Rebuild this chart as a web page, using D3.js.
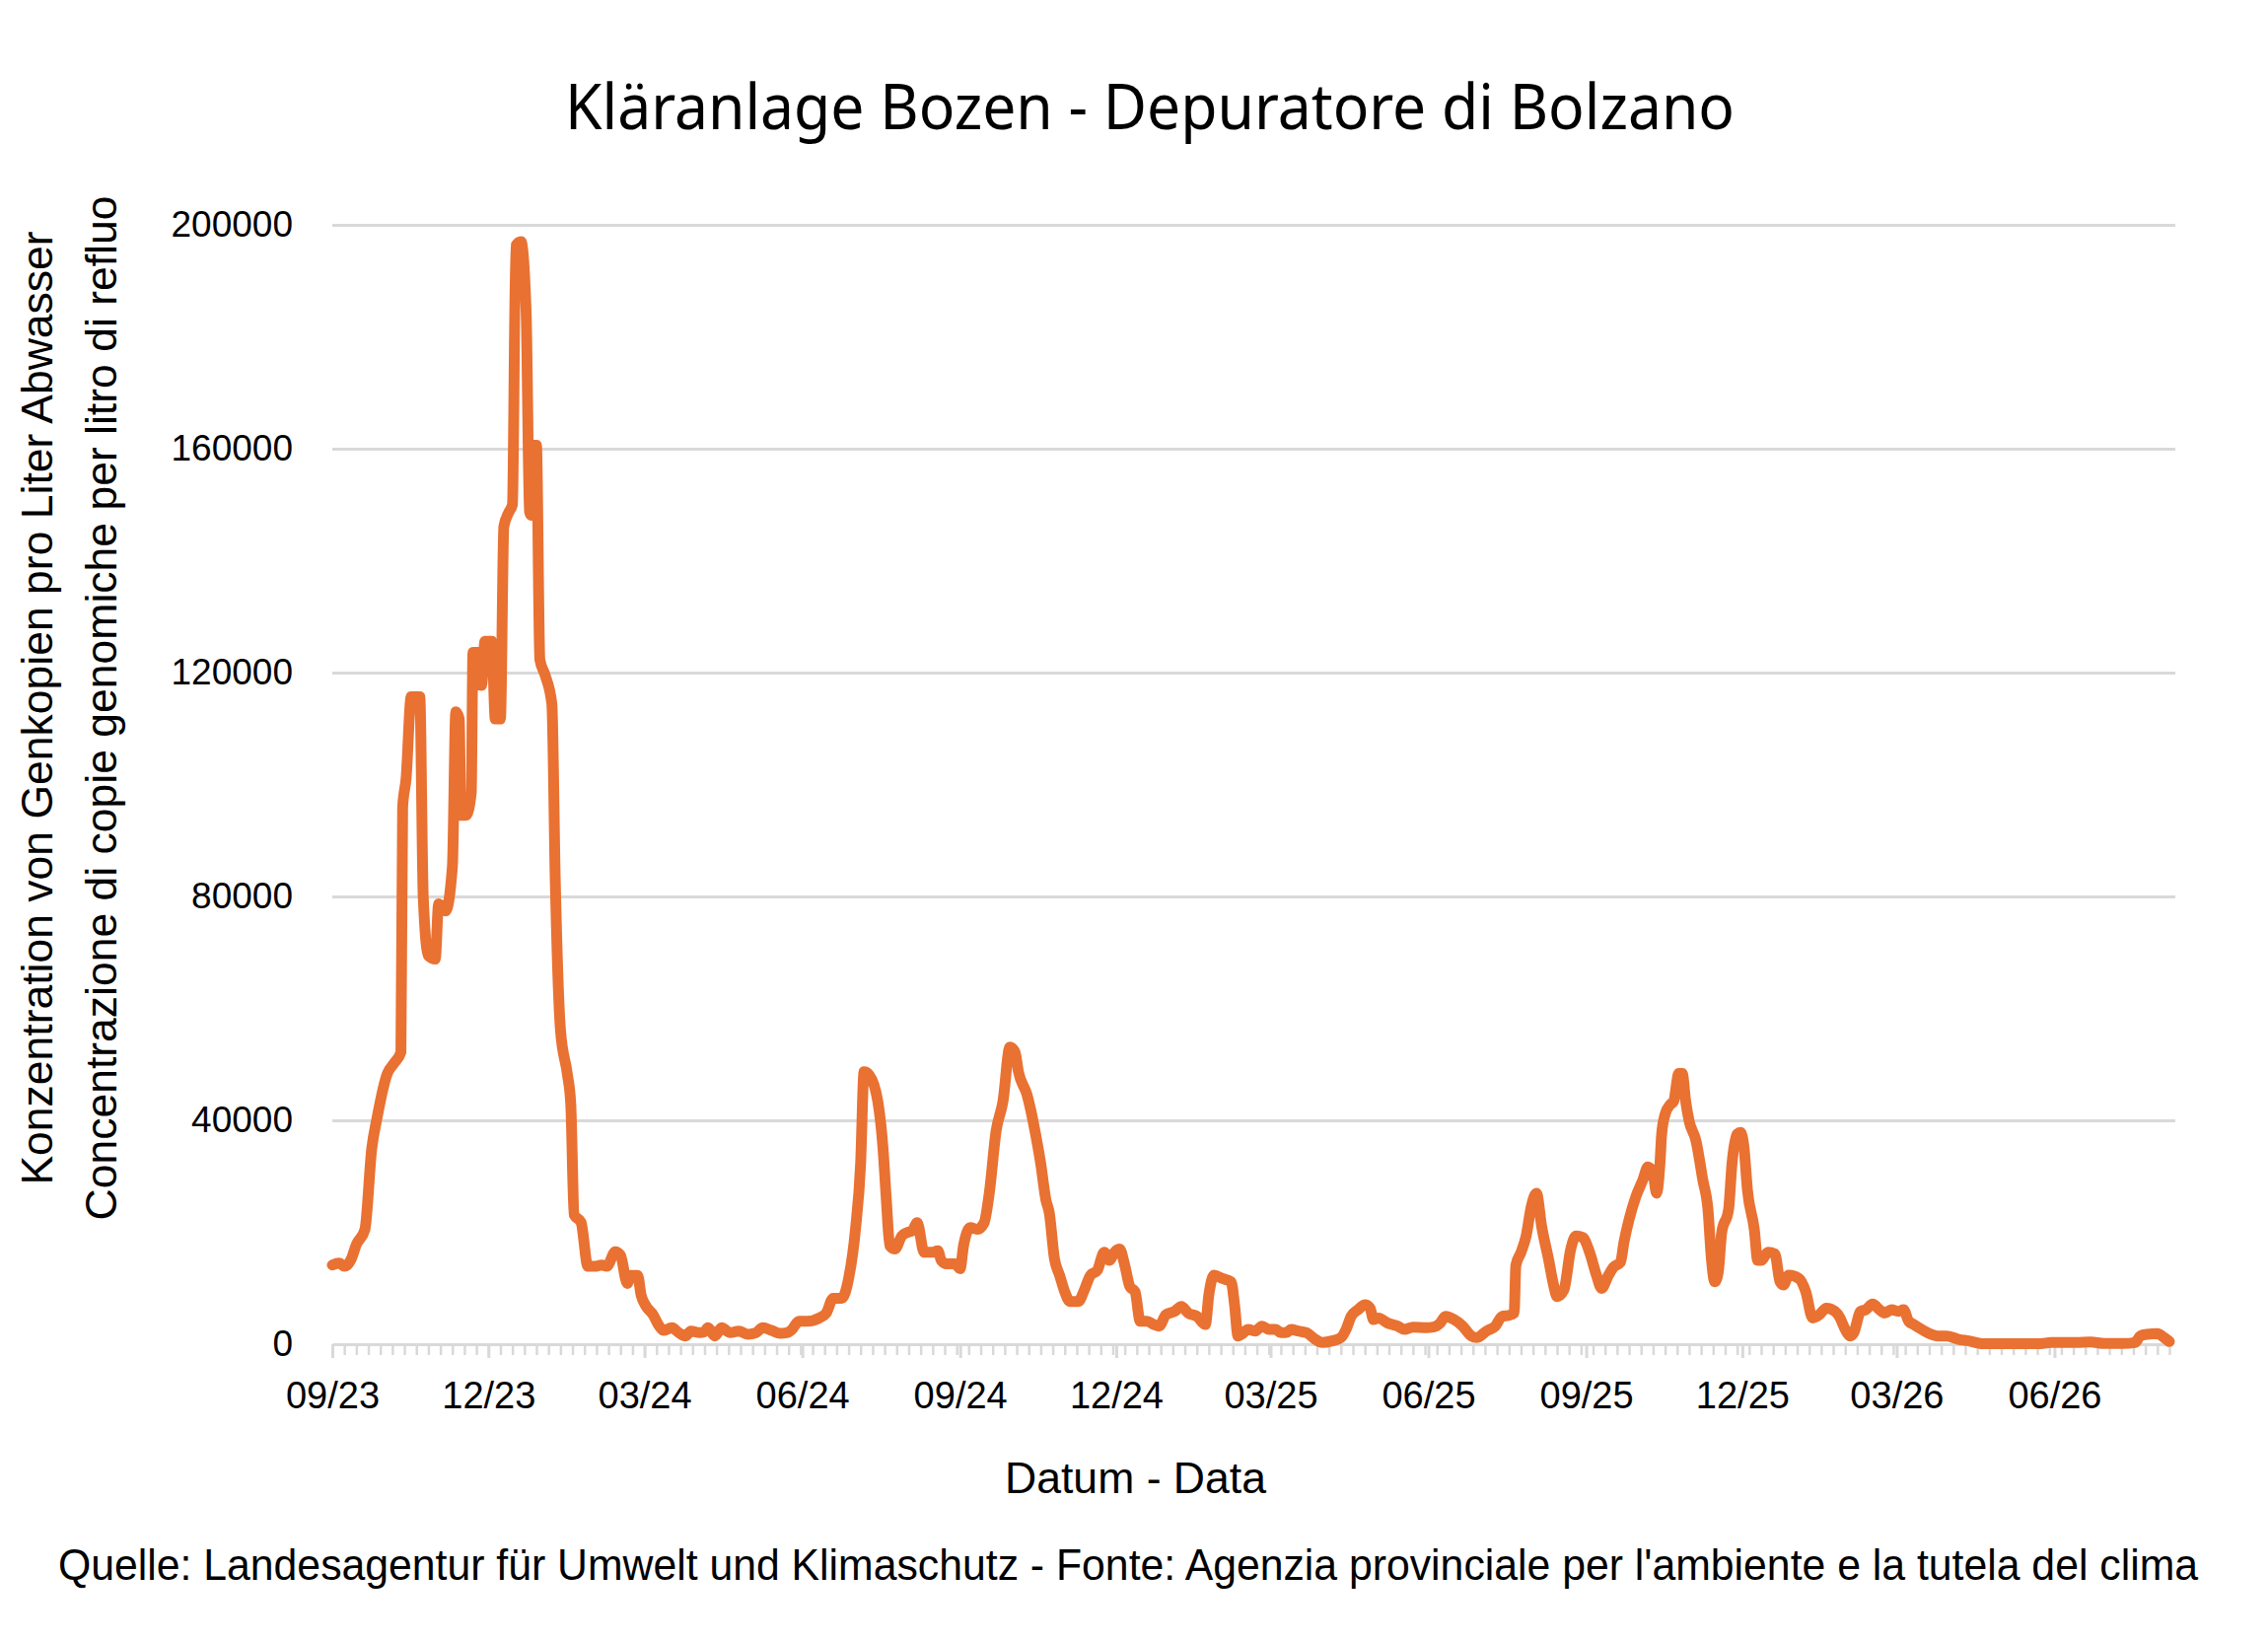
<!DOCTYPE html>
<html>
<head>
<meta charset="utf-8">
<script src="https://cdn.jsdelivr.net/npm/d3@7"></script>
<style>
  body { margin: 0; background: #fff; }
</style>
</head>
<body>
<svg id="chart"></svg>
<script>
// Messwerte (Datum, Genkopien pro Liter)
const dates = [
  "2023-09-01","2023-09-05","2023-09-08","2023-09-12","2023-09-15","2023-09-20","2023-09-24","2023-09-27",
  "2023-10-03","2023-10-07","2023-10-11","2023-10-12","2023-10-14","2023-10-17","2023-10-22","2023-10-24",
  "2023-10-27","2023-10-31","2023-11-02","2023-11-06","2023-11-10","2023-11-12","2023-11-14","2023-11-15",
  "2023-11-18","2023-11-21","2023-11-22","2023-11-25","2023-11-27","2023-11-29","2023-12-03","2023-12-05",
  "2023-12-08","2023-12-10","2023-12-13","2023-12-15","2023-12-17","2023-12-20","2023-12-23","2023-12-25",
  "2023-12-26","2023-12-27","2023-12-29","2023-12-31","2024-01-03","2024-01-07","2024-01-09","2024-01-12",
  "2024-01-16","2024-01-18","2024-01-20","2024-01-24","2024-01-28","2024-02-01","2024-02-05","2024-02-08",
  "2024-02-13","2024-02-16","2024-02-20","2024-02-22","2024-02-26","2024-02-28","2024-03-02","2024-03-06",
  "2024-03-09","2024-03-12","2024-03-17","2024-03-21","2024-03-25","2024-03-28","2024-04-02","2024-04-05",
  "2024-04-07","2024-04-11","2024-04-15","2024-04-20","2024-04-25","2024-04-30","2024-05-05","2024-05-09",
  "2024-05-14","2024-05-19","2024-05-23","2024-05-26","2024-05-30","2024-06-04","2024-06-11","2024-06-15",
  "2024-06-19","2024-06-24","2024-06-28","2024-07-02","2024-07-05","2024-07-07","2024-07-10","2024-07-15",
  "2024-07-18","2024-07-20","2024-07-22","2024-07-25","2024-07-29","2024-08-01","2024-08-04","2024-08-07",
  "2024-08-11","2024-08-16","2024-08-19","2024-08-21","2024-08-24","2024-08-29","2024-09-01","2024-09-03",
  "2024-09-07","2024-09-11","2024-09-15","2024-09-18","2024-09-22","2024-09-26","2024-09-30","2024-10-03",
  "2024-10-05","2024-10-10","2024-10-15","2024-10-18","2024-10-21","2024-10-23","2024-10-26","2024-10-29",
  "2024-11-01","2024-11-04","2024-11-09","2024-11-12","2024-11-16","2024-11-20","2024-11-24","2024-11-27",
  "2024-11-30","2024-12-03","2024-12-06","2024-12-09","2024-12-12","2024-12-15","2024-12-19","2024-12-23",
  "2024-12-26","2024-12-30","2025-01-04","2025-01-08","2025-01-12","2025-01-17","2025-01-22","2025-01-24",
  "2025-01-27","2025-02-01","2025-02-06","2025-02-08","2025-02-10","2025-02-12","2025-02-16","2025-02-20",
  "2025-02-24","2025-02-28","2025-03-04","2025-03-07","2025-03-10","2025-03-13","2025-03-17","2025-03-22",
  "2025-03-27","2025-03-31","2025-04-06","2025-04-11","2025-04-14","2025-04-17","2025-04-21","2025-04-25",
  "2025-04-28","2025-04-30","2025-05-03","2025-05-08","2025-05-14","2025-05-18","2025-05-23","2025-05-31",
  "2025-06-04","2025-06-08","2025-06-11","2025-06-16","2025-06-21","2025-06-26","2025-06-29","2025-07-05",
  "2025-07-10","2025-07-14","2025-07-18","2025-07-21","2025-07-22","2025-07-25","2025-07-28","2025-07-31",
  "2025-08-03","2025-08-06","2025-08-10","2025-08-13","2025-08-15","2025-08-19","2025-08-23","2025-08-26",
  "2025-08-30","2025-09-03","2025-09-07","2025-09-10","2025-09-14","2025-09-17","2025-09-21","2025-09-23",
  "2025-09-26","2025-09-30","2025-10-04","2025-10-07","2025-10-10","2025-10-12","2025-10-14","2025-10-15",
  "2025-10-17","2025-10-20","2025-10-22","2025-10-25","2025-10-27","2025-10-29","2025-10-31","2025-11-04",
  "2025-11-08","2025-11-11","2025-11-13","2025-11-15","2025-11-17","2025-11-19","2025-11-23","2025-11-25",
  "2025-11-28","2025-11-30","2025-12-02","2025-12-04","2025-12-08","2025-12-10","2025-12-12","2025-12-16",
  "2025-12-20","2025-12-23","2025-12-25","2025-12-28","2026-01-03","2026-01-07","2026-01-11","2026-01-15",
  "2026-01-19","2026-01-24","2026-01-27","2026-01-30","2026-02-02","2026-02-04","2026-02-08","2026-02-11",
  "2026-02-15","2026-02-19","2026-02-22","2026-02-26","2026-03-02","2026-03-05","2026-03-08","2026-03-11",
  "2026-03-14","2026-03-19","2026-03-25","2026-03-30","2026-04-06","2026-04-12","2026-04-20","2026-04-30",
  "2026-05-11","2026-05-24","2026-05-30","2026-06-09","2026-06-14","2026-06-22","2026-06-30","2026-07-11",
  "2026-07-18","2026-07-21","2026-07-25","2026-07-31","2026-08-04","2026-08-07"
];

const values = [
  14150,14500,13900,15200,17800,20500,35000,40300,
  48300,50200,52200,95900,101000,115700,115700,80000,
  69400,68800,78700,77400,85300,113000,111700,94500,
  94500,98500,123600,123600,117700,125600,125600,111700,
  111700,146100,148700,150000,196300,197000,184400,148700,
  148100,160600,160600,122300,119600,114400,82600,56200,
  48300,43000,23100,21800,13900,13900,14150,13900,
  16500,15900,10850,12300,12300,8800,6750,5280,
  3520,2460,2930,2050,1470,2350,2050,2230,
  2930,1470,2930,2050,2350,1760,2050,2930,
  2460,1940,2050,2640,4100,4100,4690,5570,
  8210,8210,11730,20530,32260,48680,48090,43400,
  35190,25800,17600,17000,19350,19940,20230,21700,
  16420,16420,16700,14960,14370,14370,13490,17600,
  20820,20530,21700,26980,38120,43400,53080,52200,
  48680,44570,37540,32260,25800,23460,15250,12320,
  9380,7620,7620,9380,12320,13200,16420,14960,
  16420,17000,14080,10260,9380,4100,4100,3520,
  3230,5280,5870,6750,5570,4990,3520,8800,
  12320,11730,11140,7040,1470,1760,2640,2350,
  3230,2640,2640,2050,2050,2640,2350,2050,
  880,290,590,1170,2640,4990,6160,7040,
  6450,4400,4690,3810,3230,2640,3050,2930,
  3050,3810,4990,4400,3230,1470,1170,2350,
  3230,4990,5160,5570,14080,16420,19350,24630,
  26980,21110,15250,10560,8500,9680,17000,19350,
  19060,16420,12320,9970,12320,13780,14660,18180,
  22290,26390,29330,31670,30500,26980,32260,37540,
  41060,42810,43400,48390,48390,43400,39880,36360,
  29330,24050,15250,11140,12900,19940,24050,32260,
  37540,37830,35190,27570,20530,14960,14960,16420,
  16130,11140,10560,12320,11730,9380,4690,5280,
  6450,5870,4690,2640,1470,2050,5870,6160,
  7160,6160,5570,6160,5870,6160,4100,3520,
  2930,2050,1470,1470,880,590,100,100,
  100,100,290,290,290,410,120,120,
  290,1470,1760,1880,1170,470
];

const yTicks = [0, 40000, 80000, 120000, 160000, 200000];
const axisStart = "2023-09-01";
const axisEnd = "2026-08-07";

const titleText = "Kläranlage Bozen - Depuratore di Bolzano";
const yTitleDe = "Konzentration von Genkopien pro Liter Abwasser";
const yTitleIt = "Concentrazione di copie genomiche per litro di refluo";
const xTitleText = "Datum - Data";
const sourceText = "Quelle: Landesagentur für Umwelt und Klimaschutz - Fonte: Agenzia provinciale per l'ambiente e la tutela del clima";

// Zeichenfläche
const width = 2300;
const height = 1666;

const svg = d3.select("#chart")
    .attr("width", width)
    .attr("height", height)
    .style("background", "#fff");

const plot = { left: 337, right: 2200, top: 228, bottom: 1363 };

const parseDate = d3.timeParse("%Y-%m-%d");
const data = dates.map((d, i) => ({ date: parseDate(d), value: values[i] }));

const xScale = d3.scaleTime()
    .domain([parseDate(axisStart), parseDate(axisEnd)])
    .range([plot.left, plot.right]);

const yScale = d3.scaleLinear()
    .domain([0, 200000])
    .range([plot.bottom, plot.top]);

// Gitterlinien
const gridGroup = svg.append("g")
    .attr("transform", `translate(${plot.left}, 0)`);
gridGroup.call(d3.axisLeft(yScale)
    .tickValues(yTicks.filter(t => t > 0))
    .tickSize(-(plot.right + 6 - plot.left))
    .tickFormat(""));
gridGroup.select(".domain").remove();
gridGroup.selectAll("line")
    .attr("stroke", "#d9d9d9")
    .attr("stroke-width", 3);

// y-Achse (nur Beschriftung)
const yAxisGroup = svg.append("g")
    .attr("transform", `translate(${plot.left}, 0)`);
yAxisGroup.call(d3.axisLeft(yScale)
    .tickValues(yTicks)
    .tickSize(0)
    .tickPadding(40)
    .tickFormat(d3.format("d")));
yAxisGroup.select(".domain").remove();
yAxisGroup.selectAll("text")
    .attr("font-family", "'Liberation Sans', Arial, sans-serif")
    .attr("font-size", 37)
    .attr("fill", "#000");

// x-Achse: Wochen-Teilstriche und Quartalsbeschriftung
const minorTicks = d3.timeDay.range(parseDate(axisStart), d3.timeDay.offset(parseDate(axisEnd), 1), 7);
const majorTicks = d3.timeMonth.range(parseDate(axisStart), d3.timeDay.offset(parseDate(axisEnd), 1), 3);

const xMinorGroup = svg.append("g")
    .attr("transform", `translate(0, ${plot.bottom})`);
xMinorGroup.call(d3.axisBottom(xScale)
    .tickValues(minorTicks)
    .tickSizeInner(11)
    .tickSizeOuter(0)
    .tickFormat(""));
xMinorGroup.select(".domain")
    .attr("stroke", "#d9d9d9")
    .attr("stroke-width", 3);
xMinorGroup.selectAll("line")
    .attr("stroke", "#d9d9d9")
    .attr("stroke-width", 2.5);

const xAxisGroup = svg.append("g")
    .attr("transform", `translate(0, ${plot.bottom})`);
xAxisGroup.call(d3.axisBottom(xScale)
    .tickValues(majorTicks)
    .tickSizeInner(14)
    .tickSizeOuter(0)
    .tickFormat(d3.timeFormat("%m/%y")));
xAxisGroup.select(".domain").remove();
xAxisGroup.selectAll("line")
    .attr("stroke", "#d9d9d9")
    .attr("stroke-width", 3);
xAxisGroup.selectAll("text")
    .attr("y", 65)
    .attr("dy", null)
    .attr("font-family", "'Liberation Sans', Arial, sans-serif")
    .attr("font-size", 38)
    .attr("fill", "#000");

// Verlauf
const line = d3.line()
    .x(d => xScale(d.date))
    .y(d => yScale(d.value))
    .curve(d3.curveMonotoneX);

svg.append("path")
    .datum(data)
    .attr("d", line)
    .attr("fill", "none")
    .attr("stroke", "#E97132")
    .attr("stroke-width", 11)
    .attr("stroke-linejoin", "round")
    .attr("stroke-linecap", "round");

// Titel und Beschriftungen
svg.append("text")
    .attr("x", 573)
    .attr("y", 131)
    .attr("font-family", "'Noto Sans', 'Open Sans', sans-serif")
    .attr("font-size", 64)
    .attr("textLength", 1186)
    .attr("lengthAdjust", "spacingAndGlyphs")
    .attr("fill", "#000")
    .text(titleText);

const yTitleGroup = svg.append("g")
    .attr("font-family", "'Liberation Sans', Arial, sans-serif")
    .attr("font-size", 44.5)
    .attr("fill", "#000")
    .attr("text-anchor", "middle");

yTitleGroup.append("text")
    .attr("transform", "translate(53, 718) rotate(-90)")
    .text(yTitleDe);
yTitleGroup.append("text")
    .attr("transform", "translate(118, 718) rotate(-90)")
    .text(yTitleIt);

svg.append("text")
    .attr("x", 1019)
    .attr("y", 1514)
    .attr("font-family", "'Liberation Sans Narrow', 'Liberation Sans', sans-serif")
    .attr("font-size", 45)
    .attr("textLength", 265)
    .attr("lengthAdjust", "spacingAndGlyphs")
    .attr("fill", "#000")
    .text(xTitleText);

svg.append("text")
    .attr("x", 59)
    .attr("y", 1602)
    .attr("font-family", "'Liberation Sans Narrow', 'Liberation Sans', sans-serif")
    .attr("font-size", 44)
    .attr("textLength", 2170)
    .attr("lengthAdjust", "spacingAndGlyphs")
    .attr("fill", "#000")
    .text(sourceText);
</script>
</body>
</html>
